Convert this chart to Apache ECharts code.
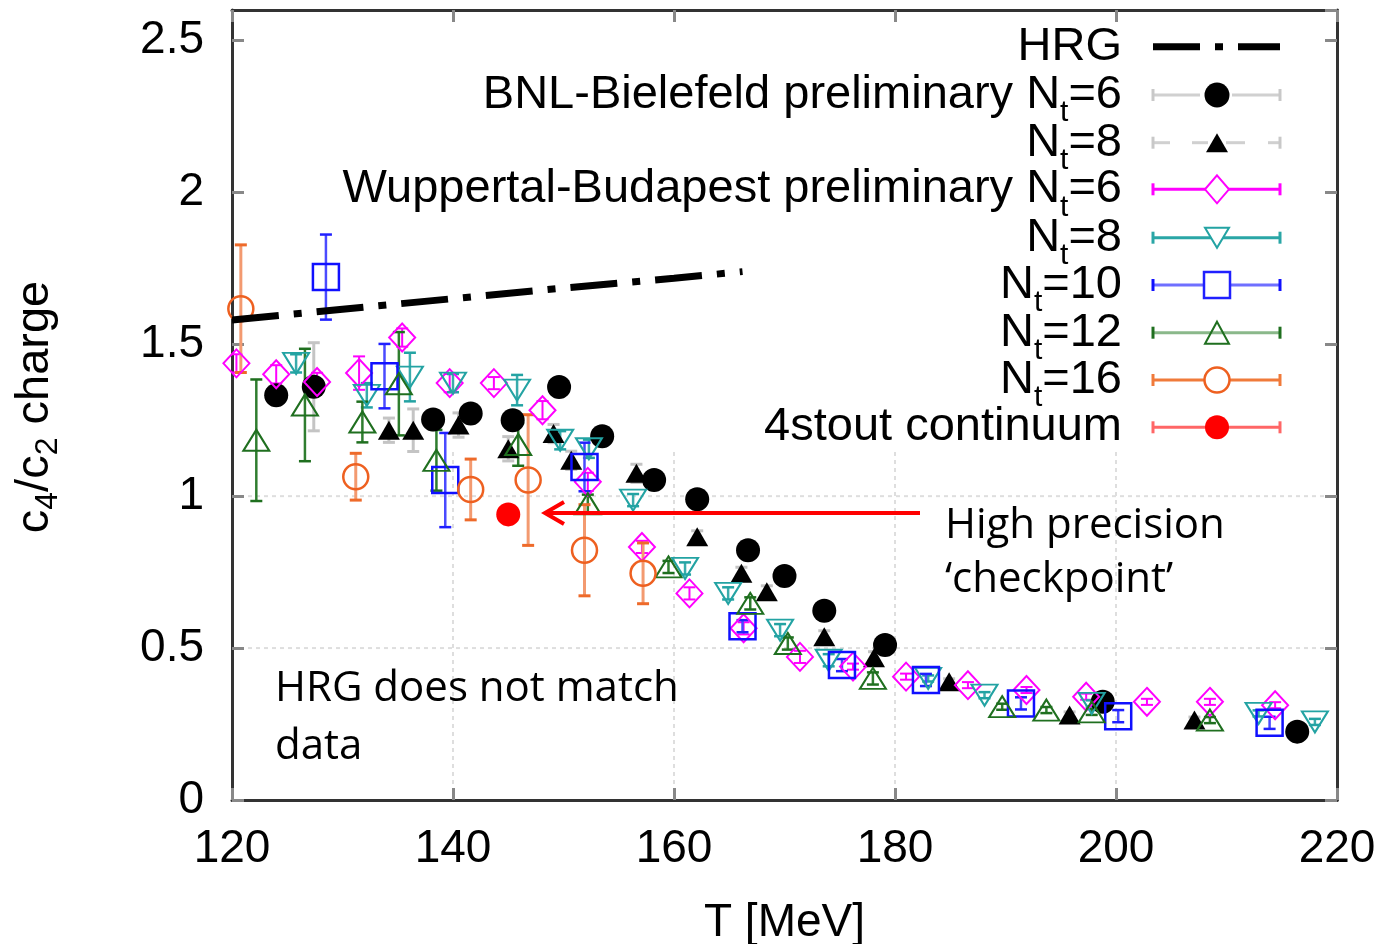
<!DOCTYPE html>
<html>
<head>
<meta charset="utf-8">
<script src="https://cdn.jsdelivr.net/npm/echarts@6/dist/echarts.min.js"></script>
<style>
html,body{margin:0;padding:0;background:#fff;}
#chart{width:1388px;height:944px;}
</style>
</head>
<body>
<div id="chart"></div>
<script>
// ---- tick labels ----
const xTicks = [120, 140, 160, 180, 200, 220];
const yTicks = [0, 0.5, 1, 1.5, 2, 2.5];
const yMax = 2.6;

// ---- HRG curve [T, c4/c2] ----
const hrg = [[120, 1.58], [130, 1.615], [140, 1.65], [150, 1.685], [160, 1.717], [166.2, 1.739]];

// ---- data [T, value, error] ----
const bnlNt6 = [
  [124.0, 1.332, 0.03], [127.4, 1.36, 0.145], [138.2, 1.252, 0.03], [141.6, 1.272, 0.03],
  [145.4, 1.25, 0.03], [149.6, 1.359, 0.03], [153.5, 1.197, 0.03], [158.2, 1.053, 0.02],
  [162.1, 0.99, 0.02], [166.7, 0.822, 0.02], [170.0, 0.737, 0.02], [173.6, 0.623, 0.02],
  [179.1, 0.51, 0.02], [198.8, 0.323, 0.02], [216.4, 0.225, 0.02]
];
const bnlNt8 = [
  [134.2, 1.217, 0.04], [136.4, 1.217, 0.07], [140.5, 1.234, 0.04], [145.0, 1.156, 0.04],
  [149.1, 1.206, 0.03], [150.7, 1.118, 0.03], [156.6, 1.075, 0.03], [162.1, 0.866, 0.02],
  [166.1, 0.746, 0.02], [168.4, 0.685, 0.02], [173.6, 0.537, 0.02], [178.1, 0.468, 0.02],
  [184.9, 0.389, 0.01], [195.8, 0.28, 0.01], [207.1, 0.263, 0.01]
];
const wbNt6 = [
  [120.4, 1.437, 0.03], [124.0, 1.401, 0.03], [127.7, 1.376, 0.03], [131.5, 1.405, 0.055],
  [135.4, 1.522, 0.03], [139.7, 1.372, 0.03], [143.7, 1.372, 0.02], [148.1, 1.283, 0.03],
  [152.2, 1.047, 0.03], [157.1, 0.833, 0.02], [161.4, 0.68, 0.02], [166.3, 0.565, 0.02],
  [171.4, 0.471, 0.02], [176.2, 0.439, 0.01], [181.0, 0.406, 0.01], [186.6, 0.378, 0.01],
  [191.9, 0.362, 0.01], [197.3, 0.34, 0.01], [202.8, 0.323, 0.01], [208.5, 0.323, 0.01],
  [214.4, 0.312, 0.01]
];
const wbNt8 = [
  [125.8, 1.437, 0.03], [132.2, 1.332, 0.04], [136.1, 1.392, 0.08], [140.0, 1.372, 0.03],
  [145.8, 1.349, 0.05], [149.7, 1.184, 0.03], [152.3, 1.156, 0.03], [156.3, 0.987, 0.02],
  [161.0, 0.762, 0.02], [164.9, 0.68, 0.02], [169.6, 0.559, 0.02], [174.0, 0.46, 0.02],
  [183.0, 0.4, 0.01], [188.1, 0.345, 0.01], [197.8, 0.318, 0.01], [212.9, 0.285, 0.01],
  [218.0, 0.257, 0.01]
];
const wbNt10 = [
  [128.5, 1.721, 0.14], [133.8, 1.395, 0.106], [139.3, 1.053, 0.155], [151.9, 1.096, 0.08],
  [166.2, 0.572, 0.02], [175.2, 0.444, 0.02], [182.8, 0.395, 0.02], [191.4, 0.318, 0.02],
  [200.2, 0.276, 0.02], [213.9, 0.254, 0.02]
];
const wbNt12 = [
  [122.2, 1.184, 0.2], [126.6, 1.30, 0.185], [131.8, 1.244, 0.067], [135.1, 1.37, 0.17],
  [138.5, 1.118, 0.1], [145.9, 1.17, 0.07], [152.2, 0.975, 0.03], [159.5, 0.767, 0.02],
  [166.9, 0.647, 0.02], [170.3, 0.515, 0.02], [178.0, 0.4, 0.02], [189.7, 0.307, 0.01],
  [193.7, 0.296, 0.01], [197.8, 0.29, 0.01], [208.5, 0.263, 0.01]
];
const wbNt16 = [
  [120.8, 1.617, 0.21], [131.2, 1.064, 0.077], [141.6, 1.022, 0.1], [146.8, 1.053, 0.215],
  [151.9, 0.822, 0.15], [157.2, 0.746, 0.1]
];
const stoutCont = [[145.0, 0.94, 0.01]];

// ---- background grid (only drawn in the lower part of the frame) ----
const gridXs = [140, 160, 180, 200];
const gridYs = [0.5, 1.0];
const gridTop = 1.15;

// ---- legend labels ----
const legendLabels = [
  'HRG',
  'BNL-Bielefeld preliminary N_t=6',
  'N_t=8',
  'Wuppertal-Budapest preliminary N_t=6',
  'N_t=8',
  'N_t=10',
  'N_t=12',
  'N_t=16',
  '4stout continuum'
];

const FONT = 'Liberation Sans';
const chart = echarts.init(document.getElementById('chart'), null, {renderer: 'canvas'});

function errSeries(data, color, capColor, width) {
  return {
    type: 'custom', silent: true, clip: true, animation: false,
    data: data.map(d => [d[0], d[1] - d[2], d[1] + d[2]]),
    encode: {x: 0, y: [1, 2]},
    renderItem(params, api) {
      const x = api.value(0);
      const p1 = api.coord([x, api.value(1)]);
      const p2 = api.coord([x, api.value(2)]);
      const hw = 6;
      return {type: 'group', children: [
        {type: 'line', shape: {x1: p1[0], y1: p1[1], x2: p2[0], y2: p2[1]}, style: {stroke: color, lineWidth: width}},
        {type: 'line', shape: {x1: p1[0] - hw, y1: p1[1], x2: p1[0] + hw, y2: p1[1]}, style: {stroke: capColor, lineWidth: width}},
        {type: 'line', shape: {x1: p2[0] - hw, y1: p2[1], x2: p2[0] + hw, y2: p2[1]}, style: {stroke: capColor, lineWidth: width}}
      ]};
    }
  };
}
function ptSeries(data, symbol, size, fill, stroke, bw, rotate) {
  return {
    type: 'scatter', silent: true, animation: false,
    data: data.map(d => [d[0], d[1]]),
    symbol: symbol, symbolSize: size, symbolRotate: rotate || 0,
    itemStyle: {color: fill, borderColor: stroke, borderWidth: bw, opacity: 1},
    emphasis: {disabled: true}
  };
}

const NONE = 'rgba(0,0,0,0)';
const styles = [
  {data: bnlNt6, sym: 'circle', size: 24, fill: '#000', stroke: '#000', bw: 0, err: '#c4c4c4', cap: '#c4c4c4', ew: 3},
  {data: bnlNt8, sym: 'triangle', size: [22, 19], fill: '#000', stroke: '#000', bw: 0, err: '#c4c4c4', cap: '#c4c4c4', ew: 3},
  {data: wbNt6, sym: 'diamond', size: [26, 28], fill: NONE, stroke: '#ff00ff', bw: 2, err: '#ff00ff', cap: '#ff00ff', ew: 2},
  {data: wbNt8, sym: 'triangle', size: [26, 21], fill: NONE, stroke: '#23a3a3', bw: 2, err: '#39acac', cap: '#23a3a3', ew: 2.5, rot: 180},
  {data: wbNt10, sym: 'rect', size: 26, fill: NONE, stroke: '#1010ff', bw: 2.5, err: '#4a4aff', cap: '#2020ff', ew: 2.5},
  {data: wbNt12, sym: 'triangle', size: [26, 21], fill: NONE, stroke: '#1f6f1f', bw: 2, err: '#2f7d2f', cap: '#1f6f1f', ew: 2.5},
  {data: wbNt16, sym: 'circle', size: 25, fill: NONE, stroke: '#ee6020', bw: 2.5, err: '#f39a70', cap: '#ee6a2a', ew: 3},
  {data: stoutCont, sym: 'circle', size: 24, fill: '#ff0000', stroke: '#ff0000', bw: 0, err: '#ff6060', cap: '#ff6060', ew: 2}
];

const series = [];
// grid lines
series.push({
  type: 'custom', silent: true, animation: false, z: 0,
  data: gridXs.map(x => [x, 0, gridTop, 0]).concat(gridYs.map(y => [xTicks[0], y, y, 1])),
  encode: {x: 0, y: 1},
  renderItem(params, api) {
    const isH = api.value(3) === 1;
    let a, b;
    if (isH) { a = api.coord([xTicks[0], api.value(1)]); b = api.coord([xTicks[xTicks.length - 1], api.value(1)]); }
    else { a = api.coord([api.value(0), api.value(1)]); b = api.coord([api.value(0), api.value(2)]); }
    return {type: 'line', shape: {x1: a[0], y1: a[1], x2: b[0], y2: b[1]}, style: {stroke: '#dedede', lineWidth: 2, lineDash: [4, 4]}};
  }
});
// HRG
series.push({
  type: 'line', silent: true, animation: false, data: hrg, showSymbol: false, symbol: 'none',
  lineStyle: {color: '#000', width: 7, type: [47, 15, 8, 15], cap: 'butt'}
});
styles.forEach(s => {
  series.push(errSeries(s.data, s.err, s.cap, s.ew));
  series.push(ptSeries(s.data, s.sym, s.size, s.fill, s.stroke, s.bw, s.rot));
});

// ---- legend (graphic) ----
const rowY = [46.7, 95, 142.7, 189.3, 237.7, 285, 332.7, 380, 427.3];
const LX0 = 1153, LX1 = 1280, LMX = 1217, TX = 1122;
function richLabel(lbl) {
  if (lbl.indexOf('N_t') < 0) return '{a|' + lbl + '}';
  const parts = lbl.split('N_t');
  return '{a|' + parts[0] + 'N}{s|t}{a|' + parts[1] + '}';
}
const graphics = [];
legendLabels.forEach((lbl, i) => {
  graphics.push({
    type: 'text', x: TX, y: rowY[i], z: 100,
    style: {
      text: richLabel(lbl), align: 'right', verticalAlign: 'middle', fill: '#000',
      font: '47px ' + FONT,
      rich: {
        a: {fontSize: 47, fontFamily: FONT, lineHeight: 60, fill: '#000'},
        s: {fontSize: 30, fontFamily: FONT, lineHeight: 20, padding: [36, 0, 0, 0], fill: '#000'}
      }
    }
  });
});
function hline(x1, x2, y, color, w, dash) {
  return {type: 'line', z: 100, shape: {x1: x1, y1: y, x2: x2, y2: y}, style: {stroke: color, lineWidth: w, lineDash: dash || null}};
}
function vcap(x, y, color, w) {
  return {type: 'line', z: 100, shape: {x1: x, y1: y - 6, x2: x, y2: y + 6}, style: {stroke: color, lineWidth: w}};
}
function errSample(y, lineColor, capColor, w) {
  return [hline(LX0, LX1, y, lineColor, w), vcap(LX0, y, capColor, 3), vcap(LX1, y, capColor, 3)];
}
function marker(kind, cx, cy, w, h, fill, stroke, lw) {
  if (kind === 'circle') return {type: 'circle', z: 101, shape: {cx: cx, cy: cy, r: w / 2}, style: {fill: fill, stroke: stroke, lineWidth: lw}};
  if (kind === 'rect') return {type: 'rect', z: 101, shape: {x: cx - w / 2, y: cy - h / 2, width: w, height: h}, style: {fill: fill, stroke: stroke, lineWidth: lw}};
  let pts;
  if (kind === 'triangle') pts = [[cx, cy - h / 2], [cx + w / 2, cy + h / 2], [cx - w / 2, cy + h / 2]];
  if (kind === 'itriangle') pts = [[cx - w / 2, cy - h / 2], [cx + w / 2, cy - h / 2], [cx, cy + h / 2]];
  if (kind === 'diamond') pts = [[cx, cy - h / 2], [cx + w / 2, cy], [cx, cy + h / 2], [cx - w / 2, cy]];
  return {type: 'polygon', z: 101, shape: {points: pts}, style: {fill: fill, stroke: stroke, lineWidth: lw}};
}
// HRG sample
graphics.push(hline(LX0, LX1, rowY[0], '#000', 7, [47, 15, 8, 15]));
// BNL Nt=6
graphics.push(hline(LX0, 1200, rowY[1], '#d0d0d0', 3), hline(1232, LX1, rowY[1], '#d0d0d0', 3),
  vcap(LX0, rowY[1], '#c8c8c8', 3), vcap(LX1, rowY[1], '#c8c8c8', 3),
  marker('circle', LMX, rowY[1], 25, 25, '#000', '#000', 0));
// BNL Nt=8
graphics.push(hline(LX0, 1170, rowY[2], '#d0d0d0', 3), hline(1192, 1208, rowY[2], '#d0d0d0', 3),
  hline(1226, 1245, rowY[2], '#d0d0d0', 3), hline(1268, LX1, rowY[2], '#d0d0d0', 3),
  vcap(LX0, rowY[2], '#c8c8c8', 3), vcap(LX1, rowY[2], '#c8c8c8', 3),
  marker('triangle', LMX, rowY[2], 22, 19, '#000', '#000', 0));
// WB samples
graphics.push(...errSample(rowY[3], '#ff00ff', '#ff00ff', 3), marker('diamond', LMX, rowY[3], 24, 28, '#fff', '#ff00ff', 2));
graphics.push(...errSample(rowY[4], '#2aa6a6', '#2aa6a6', 3), marker('itriangle', LMX, rowY[4], 24, 20, '#fff', '#23a3a3', 2));
graphics.push(...errSample(rowY[5], '#6f6fff', '#1010ff', 3), marker('rect', LMX, rowY[5], 26, 26, '#fff', '#2020ff', 2.5));
graphics.push(...errSample(rowY[6], '#8ab88a', '#1f6f1f', 3), marker('triangle', LMX, rowY[6], 24, 22, 'rgba(0,0,0,0)', '#1f6f1f', 2));
graphics.push(...errSample(rowY[7], '#f07a3a', '#f07a3a', 3), marker('circle', LMX, rowY[7], 25, 25, '#fff', '#ee6020', 2.5));
graphics.push(...errSample(rowY[8], '#ff6666', '#ff6666', 3), marker('circle', LMX, rowY[8], 24, 24, '#ff0000', '#ff0000', 0));

// annotations
const ANNO_FONT = '"Open Sans", "Noto Sans", sans-serif';
graphics.push(
  {type: 'text', x: 945, y: 526, z: 100, style: {text: 'High precision', font: '42px ' + ANNO_FONT, fill: '#000', align: 'left', verticalAlign: 'middle'}},
  {type: 'text', x: 945, y: 580, z: 100, style: {text: '\u2018checkpoint\u2019', font: '42px ' + ANNO_FONT, fill: '#000', align: 'left', verticalAlign: 'middle'}},
  {type: 'text', x: 275, y: 689, z: 100, style: {text: 'HRG does not match', font: '42px ' + ANNO_FONT, fill: '#000', align: 'left', verticalAlign: 'middle'}},
  {type: 'text', x: 275, y: 747, z: 100, style: {text: 'data', font: '42px ' + ANNO_FONT, fill: '#000', align: 'left', verticalAlign: 'middle'}},
  {type: 'line', z: 100, shape: {x1: 545, y1: 513, x2: 920, y2: 513}, style: {stroke: '#ff0000', lineWidth: 4}},
  {type: 'polyline', z: 100, shape: {points: [[564, 502], [545, 513], [564, 524]]}, style: {stroke: '#ff0000', lineWidth: 4, fill: null}}
);
// y axis title
graphics.push({
  type: 'text', x: 35, y: 407, rotation: Math.PI / 2, z: 100,
  style: {
    text: '{a|c}{s|4}{a|/c}{s|2}{a| charge}', align: 'center', verticalAlign: 'middle', fill: '#000',
    font: '47px ' + FONT,
    rich: {
      a: {fontSize: 47, fontFamily: FONT, lineHeight: 56, fill: '#000'},
      s: {fontSize: 32, fontFamily: FONT, lineHeight: 20, padding: [26, 0, 0, 0], fill: '#000'}
    }
  }
});

const axisCommon = {
  axisLine: {show: true, onZero: false, lineStyle: {color: '#333', width: 3}},
  axisTick: {show: true, inside: true, length: 12, lineStyle: {color: '#888', width: 3}},
  splitLine: {show: false},
  minorTick: {show: false}
};

chart.setOption({
  animation: false,
  backgroundColor: '#fff',
  textStyle: {fontFamily: FONT},
  grid: {left: 232, right: 51, top: 10, bottom: 144, containLabel: false, outerBoundsMode: 'none'},
  xAxis: [
    Object.assign({
      type: 'value', position: 'bottom', min: xTicks[0], max: xTicks[xTicks.length - 1], interval: xTicks[1] - xTicks[0],
      axisLabel: {show: true, fontSize: 46, color: '#000', margin: 26, fontFamily: FONT},
      name: 'T [MeV]', nameLocation: 'middle', nameGap: 100,
      nameTextStyle: {fontSize: 46, color: '#000', fontFamily: FONT}
    }, axisCommon),
    Object.assign({
      type: 'value', position: 'top', min: xTicks[0], max: xTicks[xTicks.length - 1], interval: xTicks[1] - xTicks[0],
      axisLabel: {show: false}
    }, axisCommon)
  ],
  yAxis: [
    Object.assign({
      type: 'value', position: 'left', min: yTicks[0], max: yMax, interval: yTicks[1] - yTicks[0],
      axisLabel: {show: true, fontSize: 46, color: '#000', margin: 28, fontFamily: FONT, showMaxLabel: false,
        formatter: v => (yTicks.indexOf(+v.toFixed(2)) >= 0 ? String(+v.toFixed(2)) : '')}
    }, axisCommon),
    Object.assign({
      type: 'value', position: 'right', min: yTicks[0], max: yMax, interval: yTicks[1] - yTicks[0],
      axisLabel: {show: false}
    }, axisCommon)
  ],
  series: series,
  graphic: graphics
});
</script>
</body>
</html>
